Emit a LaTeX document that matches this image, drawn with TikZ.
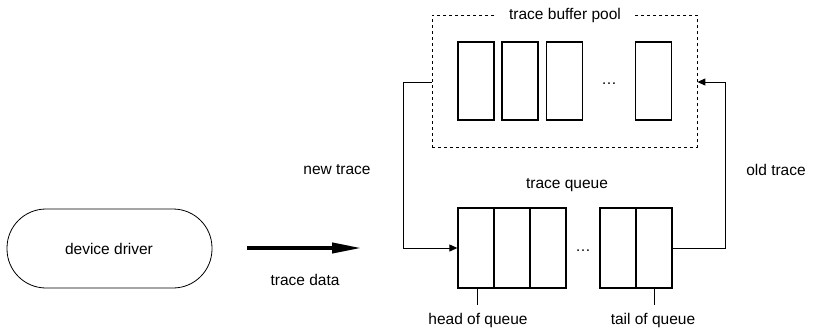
\documentclass[tikz,border=0pt]{standalone}
\usepackage{fontspec}
\setmainfont{Liberation Sans}
\usetikzlibrary{arrows.meta}
\begin{document}
\begin{tikzpicture}[x=1pt,y=-1pt,
  lbl/.style={font=\fontsize{15.5}{18}\selectfont, inner sep=1pt},
  cell/.style={draw, line width=1.3pt, minimum width=36pt, minimum height=78pt, inner sep=0pt},
  qcell/.style={draw, line width=1.3pt, minimum width=36pt, minimum height=80pt, inner sep=0pt},
  link/.style={line width=1pt, -{Triangle[length=8pt,width=7pt]}},
  tick/.style={line width=0.8pt}]
\useasboundingbox (0,0) rectangle (836,330);

% buffer pool
\node[draw, dashed, line width=0.8pt, minimum width=265pt, minimum height=132pt, inner sep=0pt] (pool) at (564.5,81) {};
\node[lbl, fill=white, inner xsep=14pt, inner ysep=4pt] (pooltitle) at (565,15) {trace buffer pool};
\node[cell] (b1) at (476,81) {};
\node[cell] (b2) at (520,81) {};
\node[cell] (b3) at (564.5,81) {};
\node[cell] (b4) at (653.5,81) {};
\node[lbl] (pdots) at (609,84) {\dots};

% trace queue
\node[lbl] (qtitle) at (567,185) {trace queue};
\node[qcell] (q1) at (476,248) {};
\node[qcell] (q2) at (512,248) {};
\node[qcell] (q3) at (548,248) {};
\node[qcell] (q4) at (618,248) {};
\node[qcell] (q5) at (654,248) {};
\node[lbl] (qdots) at (583,251) {\dots};

% head / tail markers
\coordinate (hc) at (477,305);
\coordinate (tc) at (654,305);
\draw[tick] (q1.south -| hc) -- (hc);
\draw[tick] (q5.south -| tc) -- (tc);
\node[lbl] (head) at (478,320) {head of queue};
\node[lbl] (tail) at (653,320) {tail of queue};

% circulation between pool and queue
\coordinate (lcorner) at (403,82);
\coordinate (rcorner) at (725,82);
\draw[link] (pool.west |- lcorner) -- (lcorner) |- (q1.west);
\draw[link] (q5.east) -| (rcorner) -- (pool.east |- rcorner);
\node[lbl] (newtr) at (337,170) {new trace};
\node[lbl] (oldtr) at (776,170) {old trace};

% device driver
\node[draw, line width=0.8pt, rounded corners=39pt, minimum width=205pt, minimum height=79pt, inner sep=0pt] (dd) at (109.5,248.5) {};
\node[lbl] (ddtext) at (109,249) {device driver};
\coordinate (arrend) at (362,248);
\draw[line width=4pt, -{Triangle[length=30pt,width=10pt]}] (247,248) -- (arrend);
\node[lbl] (tdata) at (305,280) {trace data};
\end{tikzpicture}
\end{document}
